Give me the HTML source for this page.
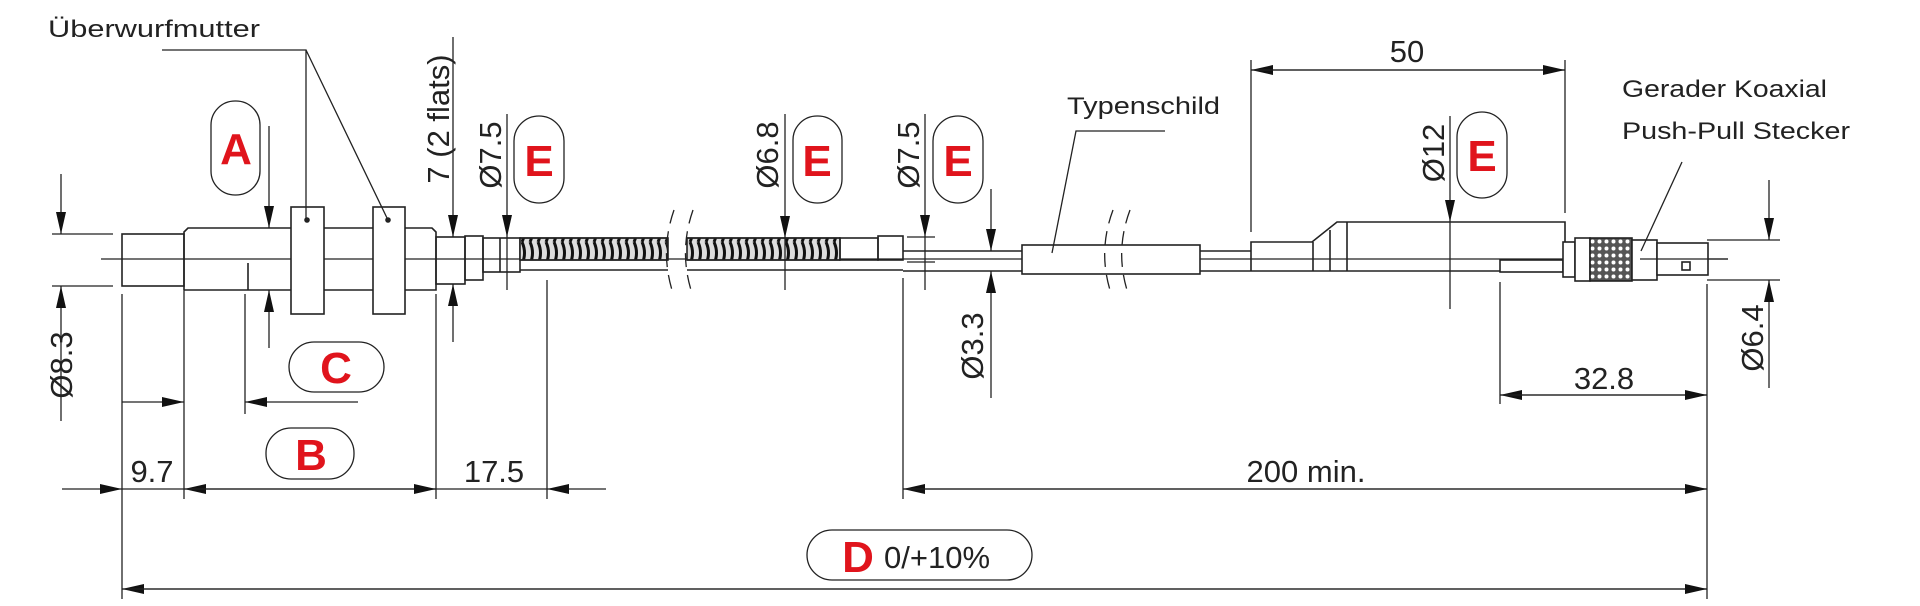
<!DOCTYPE html>
<html><head><meta charset="utf-8"><style>
html,body{margin:0;padding:0;background:#fff;width:1920px;height:606px;overflow:hidden}
svg{display:block}
text{font-family:"Liberation Sans",sans-serif;fill:#222}
.d{font-size:31px}
.l{font-size:24px}
.r{font-size:44px;font-weight:bold;fill:#e0141c}
</style></head><body>
<svg width="1920" height="606" viewBox="0 0 1920 606" xmlns="http://www.w3.org/2000/svg">
<defs>
<marker id="a" viewBox="0 0 22 10" refX="22" refY="5" markerWidth="22" markerHeight="10" markerUnits="userSpaceOnUse" orient="auto"><path d="M0,0L22,5L0,10z" fill="#111"/></marker>
<pattern id="sp" width="8" height="22" patternUnits="userSpaceOnUse"><rect width="8" height="22" fill="#ddd"/><path d="M2,0 Q7,11 2,22" stroke="#111" stroke-width="3" fill="none"/></pattern>
<pattern id="kn" width="7" height="7" patternUnits="userSpaceOnUse"><rect width="7" height="7" fill="#555"/><circle cx="3.5" cy="3.5" r="2" fill="#fff"/></pattern>
</defs>
<g stroke="#222" stroke-width="1.6" fill="none">
<line x1="101" y1="259" x2="1728" y2="259" stroke-width="1.2"/>
<rect x="122" y="234" width="62" height="52"/>
<path d="M184,290 V232 L188,228 H432 L436,232 V290 H248 V263 M184,290 H248"/>
<rect x="291" y="207" width="33" height="107" fill="#fff"/>
<rect x="373" y="207" width="32" height="107" fill="#fff"/>
<circle cx="307" cy="220" r="2" fill="#222"/><circle cx="388" cy="220" r="2" fill="#222"/>
<rect x="436" y="237" width="29" height="47"/>
<rect x="465" y="236" width="18" height="44"/>
<rect x="483" y="238" width="37" height="34"/>
<line x1="500" y1="238" x2="500" y2="272"/>
<rect x="520" y="238" width="148" height="22" fill="url(#sp)"/>
<rect x="687" y="238" width="153" height="22" fill="url(#sp)"/>
<path d="M520,238 H668 M687,238 H840 M520,260 H668 M687,260 H840 M520,270 H668 M687,270 H903"/>
<rect x="840" y="238" width="38" height="22"/>
<rect x="878" y="236" width="25" height="24"/>
<path d="M903,251 H1022 M903,271 H1022"/>
<path d="M674,210 Q660,250 672,290 M693,210 Q679,250 691,290" stroke-dasharray="14,8" stroke-width="1.3"/>
<rect x="1022" y="245" width="178" height="29" fill="#fff"/>
<path d="M1113,210 Q1098,250 1110,290 M1130,210 Q1115,250 1127,290" stroke-dasharray="14,8" stroke-width="1.3"/>
<path d="M1200,251 H1251 M1200,271 H1500"/>
<path d="M1251,271 V242 H1312 L1337,222 H1565 V271"/>
<path d="M1313,242 V271 M1330,230 V271 M1347,222 V271"/>
<rect x="1500" y="260" width="63" height="12"/>
<rect x="1563" y="242" width="12" height="35" fill="#fff"/>
<rect x="1575" y="238" width="15" height="43" fill="#fff"/>
<rect x="1590" y="238" width="42" height="43" fill="url(#kn)"/>
<rect x="1632" y="240" width="25" height="40" fill="#fff"/>
<rect x="1657" y="243" width="51" height="32" fill="#fff"/>
<rect x="1682" y="262" width="8" height="8"/>
<line x1="1640" y1="259" x2="1728" y2="259" stroke-width="1.2"/>
</g>
<g stroke="#222" stroke-width="1.3" fill="none">
<path d="M162,50 H306 V218 M306,50 L387,218"/>
<path d="M1165,131 H1076 L1052,253"/>
<path d="M1682,162 L1641,251"/>
<path d="M52,234 H113 M52,286 H113"/>
<path d="M122,294 V599 M184,290 V499 M245,294 V414 M436,294 V499 M547,280 V499 M903,278 V499 M1707,284 V599"/>
<path d="M1251,60 V232 M1565,60 V213 M1500,282 V404"/>
<path d="M1707,240 H1780 M1707,280 H1780"/>
<path d="M907,237 H935 M907,262 H935"/>
<line x1="61" y1="174" x2="61" y2="234" marker-end="url(#a)"/>
<line x1="61" y1="421" x2="61" y2="286" marker-end="url(#a)"/>
<line x1="269" y1="126" x2="269" y2="228" marker-end="url(#a)"/>
<line x1="269" y1="348" x2="269" y2="290" marker-end="url(#a)"/>
<line x1="453" y1="37" x2="453" y2="237" marker-end="url(#a)"/>
<line x1="453" y1="342" x2="453" y2="284" marker-end="url(#a)"/>
<line x1="507" y1="114" x2="507" y2="237" marker-end="url(#a)"/>
<line x1="507" y1="237" x2="507" y2="290"/>
<line x1="785" y1="114" x2="785" y2="238" marker-end="url(#a)"/>
<line x1="785" y1="238" x2="785" y2="290"/>
<line x1="925" y1="114" x2="925" y2="237" marker-end="url(#a)"/>
<line x1="925" y1="237" x2="925" y2="290"/>
<line x1="991" y1="189" x2="991" y2="251" marker-end="url(#a)"/>
<line x1="991" y1="398" x2="991" y2="271" marker-end="url(#a)"/>
<line x1="1450" y1="116" x2="1450" y2="222" marker-end="url(#a)"/>
<line x1="1450" y1="222" x2="1450" y2="309"/>
<line x1="1769" y1="180" x2="1769" y2="240" marker-end="url(#a)"/>
<line x1="1769" y1="388" x2="1769" y2="280" marker-end="url(#a)"/>
<line x1="122" y1="402" x2="184" y2="402" marker-end="url(#a)"/>
<line x1="358" y1="402" x2="245" y2="402" marker-end="url(#a)"/>
<line x1="62" y1="489" x2="122" y2="489" marker-end="url(#a)"/>
<line x1="122" y1="489" x2="184" y2="489"/>
<line x1="436" y1="489" x2="184" y2="489" marker-end="url(#a)"/>
<line x1="184" y1="489" x2="436" y2="489" marker-end="url(#a)"/>
<line x1="436" y1="489" x2="547" y2="489"/>
<line x1="606" y1="489" x2="547" y2="489" marker-end="url(#a)"/>
<line x1="1707" y1="489" x2="903" y2="489" marker-end="url(#a)"/>
<line x1="903" y1="489" x2="1707" y2="489" marker-end="url(#a)"/>
<line x1="1565" y1="70" x2="1251" y2="70" marker-end="url(#a)"/>
<line x1="1251" y1="70" x2="1565" y2="70" marker-end="url(#a)"/>
<line x1="1707" y1="395" x2="1500" y2="395" marker-end="url(#a)"/>
<line x1="1500" y1="395" x2="1707" y2="395" marker-end="url(#a)"/>
<line x1="1707" y1="589" x2="122" y2="589" marker-end="url(#a)"/>
<line x1="122" y1="589" x2="1707" y2="589" marker-end="url(#a)"/>
<rect x="211" y="101" width="49" height="94" rx="24"/>
<rect x="514" y="116" width="50" height="87" rx="25"/>
<rect x="793" y="116" width="49" height="87" rx="24"/>
<rect x="933" y="116" width="50" height="87" rx="25"/>
<rect x="1457" y="112" width="50" height="86" rx="25"/>
<rect x="289" y="342" width="95" height="50" rx="25"/>
<rect x="266" y="428" width="88" height="51" rx="25"/>
<rect x="807" y="530" width="225" height="50" rx="25"/>
</g>
<text class="l" x="48" y="37" textLength="212" lengthAdjust="spacingAndGlyphs">Überwurfmutter</text>
<text class="l" x="1067" y="114" textLength="153" lengthAdjust="spacingAndGlyphs">Typenschild</text>
<text class="l" x="1622" y="97" textLength="205" lengthAdjust="spacingAndGlyphs">Gerader Koaxial</text>
<text class="l" x="1622" y="139" textLength="228" lengthAdjust="spacingAndGlyphs">Push-Pull Stecker</text>
<text class="d" x="152" y="482" text-anchor="middle">9.7</text>
<text class="d" x="494" y="482" text-anchor="middle">17.5</text>
<text class="d" x="1306" y="482" text-anchor="middle">200 min.</text>
<text class="d" x="1407" y="62" text-anchor="middle">50</text>
<text class="d" x="1604" y="389" text-anchor="middle">32.8</text>
<text class="d" transform="translate(72,365) rotate(-90)" text-anchor="middle">Ø8.3</text>
<text class="d" transform="translate(449,119) rotate(-90)" text-anchor="middle">7 (2 flats)</text>
<text class="d" transform="translate(501,155) rotate(-90)" text-anchor="middle">Ø7.5</text>
<text class="d" transform="translate(778,155) rotate(-90)" text-anchor="middle">Ø6.8</text>
<text class="d" transform="translate(919,155) rotate(-90)" text-anchor="middle">Ø7.5</text>
<text class="d" transform="translate(983,346) rotate(-90)" text-anchor="middle">Ø3.3</text>
<text class="d" transform="translate(1444,153) rotate(-90)" text-anchor="middle">Ø12</text>
<text class="d" transform="translate(1763,338) rotate(-90)" text-anchor="middle">Ø6.4</text>
<text class="r" x="236" y="164" text-anchor="middle">A</text>
<text class="r" x="539" y="176" text-anchor="middle">E</text>
<text class="r" x="817" y="176" text-anchor="middle">E</text>
<text class="r" x="958" y="176" text-anchor="middle">E</text>
<text class="r" x="1482" y="171" text-anchor="middle">E</text>
<text class="r" x="336" y="383" text-anchor="middle">C</text>
<text class="r" x="311" y="470" text-anchor="middle">B</text>
<text class="r" x="858" y="572" text-anchor="middle">D</text>
<text class="d" x="884" y="568">0/+10%</text>
</svg>
</body></html>
